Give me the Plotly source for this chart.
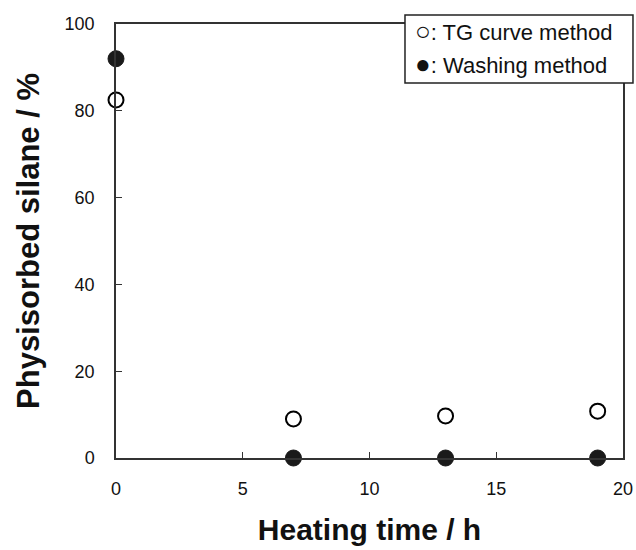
import plotly.graph_objects as go

heating_time = [0, 7, 13, 19]
tg_curve = [82.5, 9.0, 9.7, 10.8]
washing = [92.0, 0.0, 0.0, 0.0]
x_ticks = [0, 5, 10, 15, 20]
y_ticks = [0, 20, 40, 60, 80, 100]
legend_labels = ["○: TG curve method", "●: Washing method"]

FONT = "Liberation Sans, Arial"

fig = go.Figure()
fig.add_trace(go.Scatter(
    x=heating_time, y=tg_curve, mode="markers", name="TG curve method",
    marker=dict(symbol="circle", size=15, color="white",
                line=dict(color="black", width=2)),
    cliponaxis=False, showlegend=False))
fig.add_trace(go.Scatter(
    x=heating_time, y=washing, mode="markers", name="Washing method",
    marker=dict(symbol="circle", size=16, color="#1a1a1a",
                line=dict(color="#1a1a1a", width=1)),
    cliponaxis=False, showlegend=False))

axis_common = dict(showline=True, linecolor="#333", linewidth=1.5, mirror=True,
                   ticks="inside", ticklen=6, tickcolor="#333", tickwidth=1.2,
                   showgrid=False, zeroline=False, automargin=False,
                   tickfont=dict(family=FONT, size=18, color="#111"))

fig.update_xaxes(range=[0, 20], tickvals=x_ticks, ticklabelstandoff=14,
                 title=dict(text="<b>Heating time / h</b>", standoff=21,
                            font=dict(family=FONT, size=30, color="#111")),
                 **axis_common)
fig.update_yaxes(range=[0, 100], tickvals=y_ticks, ticklabelstandoff=16,
                 title=dict(text="<b>Physisorbed silane / %</b>", standoff=16,
                            font=dict(family=FONT, size=31, color="#111")),
                 **axis_common)

# legend box
fig.add_shape(type="rect", xref="paper", yref="paper",
              x0=0.570, x1=1.0197, y0=0.864, y1=1.0207,
              line=dict(color="#222", width=1.5), fillcolor="white", layer="above")
for lbl, yy in zip(legend_labels, [0.985, 0.908]):
    sym, rest = lbl[0], lbl[1:]
    fig.add_annotation(
        xref="paper", yref="paper", x=0.586, y=yy, xanchor="left", yanchor="middle",
        text=f"<span style='font-size:26px'>{sym}</span>{rest}",
        align="left", showarrow=False,
        font=dict(family=FONT, size=22, color="#111"))

fig.update_layout(width=636, height=550, margin=dict(l=116, r=13, t=24, b=92),
                  plot_bgcolor="white", paper_bgcolor="white")
fig.write_html("out.html")
